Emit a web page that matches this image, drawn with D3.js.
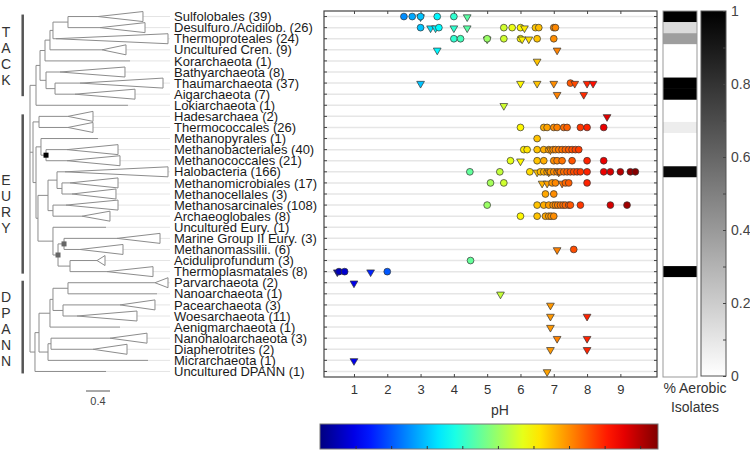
<!DOCTYPE html>
<html><head><meta charset="utf-8">
<script src="https://cdn.jsdelivr.net/npm/d3@7"></script>
<style>body{margin:0;background:#fff;} svg{display:block;font-family:"Liberation Sans",Arial,sans-serif;}</style>
</head><body><svg id="c" width="750" height="451"></svg>
<script>
const categories = ["Sulfolobales (39)","Desulfuro./Acidilob. (26)","Thermoproteales (24)","Uncultured Cren. (9)","Korarchaeota (1)","Bathyarchaeota (8)","Thaumarchaeota (37)","Aigarchaeota (7)","Lokiarchaeota (1)","Hadesarchaea (2)","Thermococcales (26)","Methanopyrales (1)","Methanobacteriales (40)","Methanococcales (21)","Halobacteria (166)","Methanomicrobiales (17)","Methanocellales (3)","Methanosarcinales (108)","Archaeoglobales (8)","Uncultured Eury. (1)","Marine Group II Eury. (3)","Methanomassilii. (6)","Aciduliprofundum (3)","Thermoplasmatales (8)","Parvarchaeota (2)","Nanoarchaeota (1)","Pacearchaeota (3)","Woesarchaeota (11)","Aenigmarchaeota (1)","Nanohaloarchaeota (3)","Diapherotrites (2)","Micrarchaeota (1)","Uncultured DPANN (1)"];

// pH optima of isolates (circles) per category
const circlePH = [
 [2.5,2.75,3.0,3.5,4.0],
 [3.0,3.55,5.5,5.75,6.0,6.45,6.55,7.0,7.05],
 [4.0,4.2,5.0,5.5,6.0,6.5,7.0],
 [],[],[],
 [7.5],
 [],[],[],
 [6.0,6.7,6.8,7.0,7.1,7.3,7.4,7.8,8.0,8.5],
 [6.5],
 [6.1,6.2,6.5,6.7,6.85,6.98,7.05,7.15,7.25,7.35,7.45,7.55,7.65,7.75],
 [5.7,6.5,6.7,7.0,7.1,7.25,7.55,8.0,8.5],
 [4.48,5.38,6.28,6.6,6.7,6.8,6.9,7.0,7.1,7.2,7.3,7.4,7.5,7.6,7.7,7.8,8.0,8.5,8.7,9.0,9.3,9.45],
 [5.1,5.5,6.95,7.05,7.35,7.45,8.0],
 [6.75,7.0],
 [5.0,6.5,6.7,6.85,6.98,7.05,7.12,7.2,7.28,7.35,7.45,7.5,7.8,8.7,9.2],
 [6.0,6.5,6.75,6.85,6.92,7.0],
 [],[],
 [7.6],
 [4.5],
 [0.55,0.72,2.0],
 [],[],[],[],[],[],[],[],[]
];
// pH of environmental samples (triangles) per category
const trianglePH = [
 [3.0,4.4],
 [3.3,3.45,4.0,4.4,6.12],
 [5.0,6.05,6.25],
 [3.5,7.1],
 [6.5],
 [],
 [3.0,6.0,6.5,7.0,7.63,8.0,8.18],
 [7.1,7.9],
 [5.5],
 [8.6],
 [],[],
 [6.9],
 [6.0],
 [6.5,6.85,7.15],
 [6.65,6.8,7.25],
 [],[],[],[],[],
 [7.1],
 [],
 [0.5,1.5],
 [1.0],
 [5.4],
 [6.9],
 [6.9,8.0],
 [6.9],
 [7.1,8.0],
 [6.9,8.0],
 [1.0],
 [6.8]
];
const aerobic = [1,0.14,0.38,0,0,0,1,1,0,0,0.07,0,0,0,0.97,0,0,0,0,0,0,0,0,1,0,0,0,0,0,0,0,0,0];
const xTicks = [1,2,3,4,5,6,7,8,9];
const colorbarTicks = [1,2,3,4,5,6,7,8,9];
const aerobicTicks = [0,0.2,0.4,0.6,0.8,1];
const aerobicMinor = [0.1,0.3,0.5,0.7,0.9];
const groups = [{name:"TACK",first:0,last:7,mid:3.6},{name:"EURY",first:9,last:23,mid:16.9},{name:"DPANN",first:24,last:32,mid:28.2}];
const scaleBarValue = 0.4;

// phylogeny: d = distance from root (apex for collapsed leaves), tip = deepest tip of collapsed clade
const treeData =
 {d:0, c:[
   {d:0.1, c:[
     {d:0.167, c:[
       {d:0.25, c:[
         {d:0.333, c:[
           {d:0.383, c:[
             {d:0.633, c:[{row:0,d:1.133,tip:1.883},{row:1,d:1.167,tip:1.917}]},
             {row:2,d:0.433,tip:2.3}]},
           {row:3,d:1.2,tip:1.6}]},
         {row:4,d:1.667,tip:1.667}]},
       {d:0.267, c:[
         {row:5,d:0.5,tip:1.583},
         {d:0.417, c:[{row:6,d:0.833,tip:2.217},{row:7,d:0.75,tip:1.75}]}]}]},
     {row:8,d:1.633,tip:1.633}]},
   {d:0.05, c:[
     {d:0.15, c:[{row:9,d:0.633,tip:1.05},{row:10,d:0.633,tip:1.05}]},
     {d:0.1, c:[
       {d:0.183, c:[
         {row:11,d:1.133,tip:1.133},
         {d:0.267, mark:"#000", c:[{row:12,d:0.617,tip:1.467},{row:13,d:0.617,tip:1.5}]}]},
       {d:0.133, c:[
         {d:0.3, c:[
           {d:0.45, c:[
             {row:14,d:0.583,tip:2.3},
             {d:0.533, c:[{row:15,d:0.667,tip:1.467},{row:16,d:0.7,tip:1.433}]}]},
           {d:0.383, c:[{row:17,d:0.6,tip:1.467},{row:18,d:0.867,tip:1.333}]}]},
         {d:0.383, c:[
           {row:19,d:1.267,tip:1.267},
           {d:0.467, mark:"#666", c:[
             {d:0.567, mark:"#666", c:[{row:20,d:1.45,tip:2.167},{row:21,d:0.833,tip:1.55}]},
             {d:0.667, c:[{row:22,d:1.117,tip:1.25},{row:23,d:1.283,tip:2.05}]}]}]}]}]}]},
   {d:0.083, c:[
     {d:0.15, c:[
       {d:0.333, c:[
         {d:0.383, c:[
           {d:0.633, c:[{row:24,d:2.083,tip:2.3},{row:25,d:2.117,tip:2.117}]},
           {d:0.55, c:[{row:26,d:1.5,tip:2.083},{row:27,d:0.783,tip:1.783}]}]},
         {row:28,d:1.5,tip:1.5}]},
       {d:0.3, c:[
         {d:0.35, c:[{row:29,d:1.333,tip:1.95},{row:30,d:1.05,tip:1.617}]},
         {row:31,d:1.967,tip:1.967}]}]},
     {row:32,d:1.267,tip:1.267}]}
 ]};

function jet(t){const c=v=>Math.max(0,Math.min(1,v));
  return d3.rgb(255*c(1.5-Math.abs(4*t-3)),255*c(1.5-Math.abs(4*t-2)),255*c(1.5-Math.abs(4*t-1))).formatHex();}

const svg = d3.select("#c");
const x = d3.scaleLinear().domain([0.1,10.1]).range([324,657]);
const y = d3.scaleBand().domain(d3.range(categories.length)).range([11,377]);
const bw = y.bandwidth();
const yc = i => y(i)+bw/2;
const colorDomain = [0,9.5];
const col = v => jet((v-colorDomain[0])/(colorDomain[1]-colorDomain[0]));

// ---------- tree ----------
const xt = d3.scaleLinear().domain([0,1]).range([30,90]);
const root = d3.hierarchy(treeData, d=>d.c);
root.eachAfter(n=>{ n.yy = n.children ? (n.children[0].yy + n.children[n.children.length-1].yy)/2 : yc(n.data.row); });
const gT = svg.append("g").attr("fill","none").attr("stroke","#8c8c8c").attr("stroke-width",1);
// guide lines to labels
root.leaves().forEach(l=>{
  gT.append("line").attr("x1",xt(l.data.tip)).attr("x2",170).attr("y1",l.yy).attr("y2",l.yy).attr("stroke","#e4e4e4");
});
root.descendants().forEach(n=>{
  if(n.parent){
    gT.append("line").attr("x1",xt(n.parent.data.d)).attr("x2",xt(n.data.d)).attr("y1",n.yy).attr("y2",n.yy);
  }
  if(n.children){
    gT.append("line").attr("x1",xt(n.data.d)).attr("x2",xt(n.data.d))
      .attr("y1",n.children[0].yy).attr("y2",n.children[n.children.length-1].yy);
  } else if(n.data.tip>n.data.d){
    const h=5;
    gT.append("path").attr("fill","#fff")
      .attr("d",d3.line()([[xt(n.data.d),n.yy],[xt(n.data.tip),n.yy-h],[xt(n.data.tip),n.yy+h]])+"Z");
  }
});
root.descendants().filter(n=>n.data.mark).forEach(n=>{
  svg.append("rect").attr("x",xt(n.data.d)-2.5).attr("y",n.yy-2.5).attr("width",5).attr("height",5).attr("fill",n.data.mark);
});
// scale bar
svg.append("line").attr("x1",xt(0)+56).attr("x2",xt(scaleBarValue)+56).attr("y1",391).attr("y2",391).attr("stroke","#555").attr("stroke-width",1);
svg.append("text").attr("x",(xt(0)+xt(scaleBarValue))/2+56).attr("y",405).attr("text-anchor","middle").attr("font-size",11).attr("fill","#444").text(String(scaleBarValue));

// group bars
groups.forEach(g=>{
  svg.append("line").attr("x1",22.7).attr("x2",22.7).attr("y1",yc(g.first)-2).attr("y2",yc(g.last)+2).attr("stroke","#555").attr("stroke-width",2.5);
  const letters = g.name.split("");
  const cy = 16.5+11.09*g.mid;
  letters.forEach((ch,k)=>{
    svg.append("text").attr("x",6).attr("y",cy+(k-(letters.length-1)/2)*16+5).attr("text-anchor","middle")
      .attr("font-size",14).attr("fill","#333").text(ch);
  });
});

// labels
svg.append("g").selectAll("text").data(categories).join("text")
  .attr("x",174).attr("y",(d,i)=>yc(i)+4.6).attr("font-size",13).attr("fill","#1a1a1a").text(d=>d);

// ---------- scatter ----------
const gG = svg.append("g");
gG.selectAll("line").data(categories).join("line")
  .attr("x1",324).attr("x2",657).attr("y1",(d,i)=>yc(i)).attr("y2",(d,i)=>yc(i))
  .attr("stroke","#e6e6e6").attr("stroke-width",1.5);

const axStyle = g=>{g.selectAll("path").attr("stroke","#444"); g.selectAll("line").attr("stroke","#444"); g.selectAll("text").attr("fill","#333").attr("font-size",13).attr("font-family","Liberation Sans, Arial, sans-serif");};
const yPos = d3.scaleLinear().domain([0,1]).range([0,1]);
svg.append("g").attr("transform","translate(0,377)")
  .call(d3.axisBottom(x).tickValues(xTicks).tickSizeInner(-3).tickSizeOuter(0).tickPadding(8).tickFormat(d3.format("d"))).call(axStyle).call(g=>g.select(".domain").remove());
svg.append("g").attr("transform","translate(0,11)")
  .call(d3.axisTop(x).tickValues(xTicks).tickSizeInner(-3).tickSizeOuter(0).tickFormat("")).call(axStyle).call(g=>g.select(".domain").remove());
const yAx = d3.axisLeft(y).tickSizeInner(-3).tickSizeOuter(0).tickFormat("");
svg.append("g").attr("transform","translate(324,0)").call(yAx).call(axStyle).call(g=>g.select(".domain").remove());
svg.append("g").attr("transform","translate(657,0)").call(d3.axisRight(y).tickSizeInner(-3).tickSizeOuter(0).tickFormat("")).call(axStyle).call(g=>g.select(".domain").remove());
svg.append("rect").attr("x",324).attr("y",11).attr("width",333).attr("height",366).attr("fill","none").attr("stroke","#444").attr("stroke-width",1.2);

svg.append("text").attr("x",500).attr("y",415).attr("text-anchor","middle").attr("font-size",14).attr("fill","#333").text("pH");

const pts=[];
categories.forEach((c,i)=>{
  trianglePH[i].forEach(v=>pts.push({row:i,v,t:"tri"}));
  circlePH[i].forEach(v=>pts.push({row:i,v,t:"cir"}));
});
pts.sort((a,b)=>a.v-b.v);
const tri = d3.symbol(d3.symbolTriangle,26);
const gM = svg.append("g").attr("stroke","#333").attr("stroke-width",0.7);
pts.forEach(p=>{
  if(p.t==="cir") gM.append("circle").attr("cx",x(p.v)).attr("cy",yc(p.row)).attr("r",3.4).attr("fill",col(p.v));
  else gM.append("path").attr("d",tri()).attr("transform",`translate(${x(p.v)},${yc(p.row)+0.5}) rotate(180)`).attr("fill",col(p.v));
});

// ---------- aerobic column ----------
const gray = v=>{const g=Math.round(255*(1-v)); return d3.rgb(g,g,g).formatHex();};
svg.append("g").selectAll("rect").data(aerobic).join("rect")
  .attr("x",663).attr("width",34).attr("y",(d,i)=>y(i)).attr("height",bw+0.3).attr("fill",d=>gray(d));
svg.append("rect").attr("x",663).attr("y",11).attr("width",34).attr("height",366).attr("fill","none").attr("stroke","#999").attr("stroke-width",1);
svg.append("text").attr("x",695).attr("y",393).attr("text-anchor","middle").attr("font-size",14).attr("fill","#333").text("% Aerobic");
svg.append("text").attr("x",695).attr("y",412).attr("text-anchor","middle").attr("font-size",14).attr("fill","#333").text("Isolates");

// gray colorbar
const defs = svg.append("defs");
const gg = defs.append("linearGradient").attr("id","gg").attr("x1",0).attr("x2",0).attr("y1",1).attr("y2",0);
d3.range(0,1.0001,0.1).forEach(t=>gg.append("stop").attr("offset",t).attr("stop-color",gray(t)));
const ya = d3.scaleLinear().domain([0,1]).range([376,11]);
svg.append("rect").attr("x",701).attr("y",11).attr("width",25).attr("height",365).attr("fill","url(#gg)").attr("stroke","#555").attr("stroke-width",1);
svg.append("g").attr("transform","translate(726,0)")
  .call(d3.axisRight(ya).tickValues(aerobicTicks).tickSizeInner(-3).tickSizeOuter(0).tickPadding(5).tickFormat(d=>String(d)))
  .call(axStyle).call(g=>g.select(".domain").remove()).call(g=>g.selectAll("text").attr("font-size",14).attr("fill","#444"));
svg.append("g").attr("transform","translate(726,0)")
  .call(d3.axisRight(ya).tickValues(aerobicMinor).tickSizeInner(-3).tickSizeOuter(0).tickFormat(""))
  .call(axStyle).call(g=>g.select(".domain").remove());

// pH colorbar
const jg = defs.append("linearGradient").attr("id","jg");
d3.range(0,1.0001,0.05).forEach(t=>jg.append("stop").attr("offset",t).attr("stop-color",jet(t)));
const xc = d3.scaleLinear().domain(colorDomain).range([320,658]);
svg.append("rect").attr("x",320).attr("y",424).attr("width",338).attr("height",25).attr("fill","url(#jg)").attr("stroke","#777").attr("stroke-width",1);
svg.append("g").attr("transform","translate(0,449)")
  .call(d3.axisBottom(xc).tickValues(colorbarTicks).tickSizeInner(-3).tickSizeOuter(0).tickFormat(""))
  .call(g=>g.select(".domain").remove()).call(g=>g.selectAll("line").attr("stroke","#333"));
</script></body></html>
